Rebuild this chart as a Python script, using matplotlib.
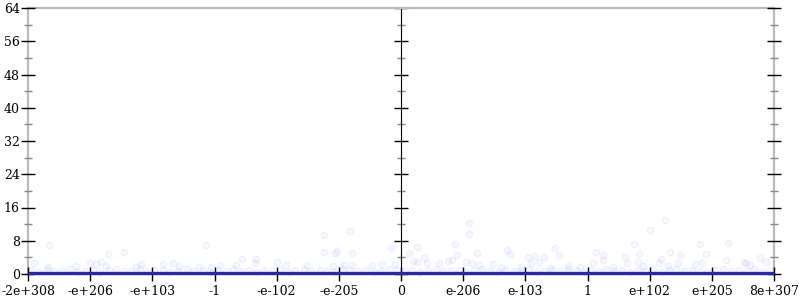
import matplotlib
matplotlib.use("Agg")
import matplotlib.pyplot as plt
from matplotlib.ticker import MultipleLocator, NullFormatter

# x positions are in tick-index units (0..12) of the ordinal float scale
tick_labels = ["-2e+308", "-e+206", "-e+103", "-1", "-e-102", "-e-205", "0",
               "e-206", "e-103", "1", "e+102", "e+205", "8e+307"]
tick_pos = list(range(len(tick_labels)))

high_x = [0.333, 1.287, 1.539, 0.097, 0.997, 1.094, 1.169, 1.255, 1.813, 2.171, 2.327, 2.429,
          2.858, 2.746, 2.939, 0.772, 0.322, 1.737, 4.756, 5.184, 4.760, 4.938, 4.965, 5.207,
          5.839, 3.447, 3.663, 3.651, 3.084, 3.341, 4.000, 4.145, 4.483, 4.911, 5.083, 5.216,
          5.528, 5.699, 5.903, 7.098, 7.093, 6.252, 6.124, 6.868, 6.905, 7.222, 7.700, 7.748,
          8.038, 8.160, 8.215, 8.300, 8.477, 8.536, 6.198, 6.262, 6.374, 6.413, 6.616, 6.751,
          6.815, 7.045, 7.137, 7.254, 7.484, 7.613, 7.925, 8.086, 8.396, 8.691, 8.879, 10.241,
          10.000, 9.748, 10.804, 11.259, 9.141, 9.249, 9.603, 9.823, 10.322, 10.483, 10.910,
          9.093, 9.244, 9.410, 9.630, 9.812, 9.892, 10.145, 10.177, 10.294, 10.455, 10.724,
          10.846, 11.232, 11.517, 11.544, 11.608, 11.769, 11.875]
high_y = [7.0, 4.7, 5.2, 2.7, 2.6, 2.4, 3.0, 1.9, 2.4, 2.4, 2.6, 1.9,
          7.0, 1.8, 1.6, 1.9, 1.8, 1.8, 9.5, 10.3, 5.3, 5.0, 5.6, 5.1,
          6.3, 3.5, 3.5, 2.7, 2.2, 2.1, 2.9, 2.2, 2.1, 1.9, 2.2, 2.2,
          2.2, 2.4, 2.4, 12.3, 9.6, 6.6, 5.0, 7.2, 4.5, 5.1, 5.8, 4.8,
          4.0, 4.3, 2.9, 4.0, 6.3, 4.6, 3.2, 3.0, 3.8, 2.6, 2.7, 3.2,
          3.4, 3.0, 2.6, 2.1, 2.4, 1.8, 1.6, 2.7, 1.5, 1.9, 1.8, 13.0,
          10.7, 7.1, 7.2, 7.4, 5.3, 4.6, 4.0, 4.8, 5.3, 4.6, 4.8,
          2.7, 3.4, 1.6, 2.7, 3.0, 1.9, 2.6, 3.6, 1.9, 2.7, 2.4,
          2.6, 3.4, 3.0, 2.7, 2.1, 3.8, 3.0]

low_x = [0.05, 0.17, 0.31, 0.42, 0.55, 0.68, 0.79, 0.93, 1.04, 1.16, 1.30, 1.41, 1.55, 1.66,
         1.80, 1.92, 2.03, 2.17, 2.29, 2.42, 2.55, 2.66, 2.81, 2.93, 3.05, 3.18, 3.30, 3.43,
         3.55, 3.68, 3.80, 3.93, 4.05, 4.19, 4.30, 4.44, 4.56, 4.69, 4.81, 4.94, 5.06, 5.18,
         5.31, 5.44, 5.56, 5.68, 5.81, 5.93, 6.06, 6.18, 6.31, 6.43, 6.56, 6.68, 6.80, 6.93,
         7.05, 7.18, 7.31, 7.43, 7.56, 7.68, 7.81, 7.93, 8.06, 8.19, 8.30, 8.43, 8.56, 8.68,
         8.81, 8.94, 9.05, 9.18, 9.30, 9.43, 9.55, 9.68, 9.81, 9.93, 10.06, 10.18, 10.31, 10.43,
         10.56, 10.68, 10.81, 10.93, 11.05, 11.18, 11.31, 11.43, 11.56, 11.68, 11.81, 11.94]
low_y = [0.9, 0.6, 1.1, 0.7, 0.9, 1.2, 0.5, 0.8, 1.0, 0.6, 0.9, 1.1, 0.7, 0.8,
         1.2, 0.6, 0.9, 1.0, 0.5, 0.8, 1.1, 0.7, 0.9, 0.6, 1.0, 0.8, 1.2, 0.7,
         0.9, 0.5, 1.0, 0.8, 1.1, 0.6, 0.9, 1.2, 0.7, 1.0, 0.8, 0.6, 1.1, 0.9,
         0.7, 1.0, 0.5, 0.8, 1.2, 0.9, 0.7, 1.0, 0.6, 0.9, 1.1, 0.8, 0.7, 1.0,
         0.6, 0.9, 1.2, 0.8, 0.5, 1.0, 0.7, 0.9, 1.1, 0.6, 0.8, 1.0, 0.7, 1.2,
         0.9, 0.6, 1.0, 0.8, 1.1, 0.7, 0.9, 0.5, 1.0, 0.8, 1.2, 0.6, 0.9, 1.1,
         0.7, 1.0, 0.8, 0.6, 0.9, 1.1, 0.7, 1.0, 0.8, 1.2, 0.6, 0.9]

line_x = [0, 1, 2, 3, 4, 5, 6, 7, 8, 9, 10, 11, 12]
line_y = [0.25, 0.25, 0.25, 0.25, 0.25, 0.25, 0.25, 0.25, 0.25, 0.25, 0.25, 0.25, 0.25]

plt.rcParams['font.family'] = ['DejaVu Serif']
plt.rcParams['font.size'] = 9

fig = plt.figure(figsize=(8, 3), dpi=100)
ax = fig.add_axes([28/800, 1-274/300, 746/800, 266/300])
ax.set_xlim(0, 12)
ax.set_ylim(0, 64)

pt_face = (0.0, 0.0, 1.0, 0.035)
pt_edge = (0.3, 0.3, 1.0, 0.07)
ax.scatter(high_x, high_y, s=22, facecolor=pt_face, edgecolor=pt_edge,
           linewidths=0.8, zorder=2, clip_on=False)
ax.scatter(low_x, low_y, s=22, facecolor=pt_face, edgecolor=pt_edge,
           linewidths=0.8, zorder=2, clip_on=False)
ax.plot(line_x, line_y, color='#2a2aa0', linewidth=2.4, zorder=3, clip_on=False,
        solid_capstyle='butt')

spine_c = '#bbbbbb'
for s in ['left', 'right', 'top', 'bottom']:
    ax.spines[s].set_color(spine_c)
    ax.spines[s].set_linewidth(1.6)
    ax.spines[s].set_zorder(1)

ax.set_xticks(tick_pos)
ax.set_xticklabels(tick_labels)
ax.yaxis.set_major_locator(MultipleLocator(8))
ax.yaxis.set_minor_locator(MultipleLocator(4))
ax.tick_params(axis='x', direction='inout', length=10, width=1, color='black', pad=3)
ax.tick_params(axis='y', which='major', direction='inout', length=10, width=1,
               color='black', pad=1, left=True, right=True, labelright=False)
ax.tick_params(axis='y', which='minor', direction='inout', length=6, width=1,
               color='#888888', left=True, right=True)

sec = ax.secondary_yaxis(0.5)
sec.spines['left'].set_color(spine_c)
sec.spines['left'].set_linewidth(1.6)
sec.yaxis.set_major_locator(MultipleLocator(8))
sec.yaxis.set_minor_locator(MultipleLocator(4))
sec.yaxis.set_major_formatter(NullFormatter())
sec.tick_params(axis='y', which='major', direction='inout', length=10, width=1,
                color='black')
sec.tick_params(axis='y', which='minor', direction='inout', length=6, width=1,
                color='#888888')

fig.savefig('out.png', dpi=100)
